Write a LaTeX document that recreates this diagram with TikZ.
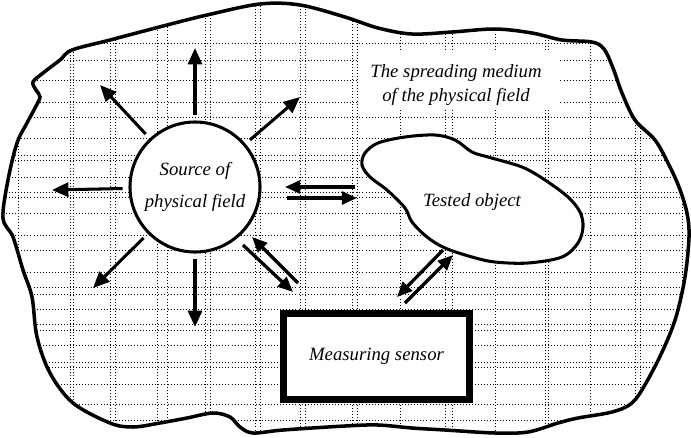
\documentclass[tikz,border=0pt]{standalone}
\usepackage{fontspec}
\setmainfont{Liberation Serif}
\usetikzlibrary{arrows.meta}
\begin{document}
\begin{tikzpicture}[x=0.03cm,y=-0.03cm,
    ray/.style={-{Triangle[length=14pt,width=12pt]},line width=2.6pt,shorten <=5pt},
    pair/.style={-{Triangle[length=13pt,width=11pt]},line width=2.8pt},
    gridline/.style={line width=0.5pt,dash pattern=on 0.6pt off 2pt},
    txt/.style={font=\fontsize{16}{20}\selectfont\itshape,align=center}]
  \useasboundingbox (0,0) rectangle (691,437);
  \def\medium{plot[smooth cycle,tension=0.55] coordinates {
    (72,50) (110,40) (167,25) (207,15) (260,4) (300,5) (345,17) (378,28)
    (412,34) (452,32) (495,29) (532,33) (562,40) (592,42) (604,49) (613,68)
    (622,93) (635,120) (655,140) (668,163) (679,187) (687,213) (689,237)
    (685,277) (676,317) (663,350) (646,383) (632,403) (612,412) (578,418)
    (558,423) (528,432) (495,433) (445,430) (412,428) (378,425) (345,426)
    (283,430) (253,433) (240,427) (230,417) (213,413) (187,418) (160,423)
    (133,427) (110,423) (73,403) (50,373) (37,337) (32,297) (23,270)
    (13,237) (3,218) (8,180) (17,143) (27,123) (35,108) (40,97) (36,90)
    (33,82) (43,73) (60,60)}}
  \begin{scope}
    \clip \medium;
    \foreach \x in {18,70,73,110,115,157,167,205,210,255,260,300,305,352,357,
      400,445,452,495,545,548,590,635,640,682}
      \draw[gridline] (\x,0) -- (\x,437);
    \foreach \y in {43,60,80,102,117,138,155,160,177,192,197,213,235,250,272,
      287,294,309,324,330,345,362,367,384,404,420}
      \draw[gridline] (0,\y) -- (691,\y);
  \end{scope}
  \draw[line width=3pt] \medium;

  \fill[white] (358,50) rectangle (558,108);
  \node[txt] (medium) at (456,85) {The spreading medium\\of the physical field};

  \draw[line width=2.6pt,fill=white] plot[smooth cycle,tension=0.55] coordinates {
    (365,153) (378,143) (405,137) (435,135) (455,140) (472,152) (488,157)
    (522,167) (545,180) (568,197) (580,212) (583,227) (578,243) (562,257)
    (528,263) (495,262) (472,257) (445,248) (427,237) (412,222) (405,208)
    (387,190) (370,177) (362,165)};
  \node[txt] (tested) at (472,202) {Tested object};

  \node[txt,font=\fontsize{16}{27}\selectfont\itshape,circle,draw,line width=2.6pt,
    fill=white,minimum size=3.9cm] (source) at (195,187) {Source of\\physical field};
  \node[txt,draw,line width=6pt,fill=white,minimum width=5.58cm,
    minimum height=2.58cm] (sensor) at (376.5,356.5) {Measuring sensor};

  \coordinate (up) at (195,48);
  \coordinate (upleft) at (100,85);
  \coordinate (upright) at (300,97);
  \coordinate (left) at (52,190);
  \coordinate (downleft) at (93,288);
  \coordinate (down) at (195,327);
  \begin{scope}[ray]
    \draw (source) to (up);
    \draw (source) to (upleft);
    \draw (source) to (upright);
    \draw (source) to (left);
    \draw (source) to (downleft);
    \draw (source) to (down);
  \end{scope}

  \coordinate (st1) at (355,187);
  \coordinate (st2) at (285,187);
  \coordinate (st3) at (287,198);
  \coordinate (st4) at (357,198);
  \coordinate (ss1) at (298,283);
  \coordinate (ss2) at (252,237);
  \coordinate (ss3) at (243,245);
  \coordinate (ss4) at (293,292);
  \coordinate (ts1) at (443,250);
  \coordinate (ts2) at (397,297);
  \coordinate (ts3) at (405,303);
  \coordinate (ts4) at (453,255);
  \begin{scope}[pair]
    \draw (st1) to (st2);
    \draw (st3) to (st4);
    \draw (ss1) to (ss2);
    \draw (ss3) to (ss4);
    \draw (ts1) to (ts2);
    \draw (ts3) to (ts4);
  \end{scope}
\end{tikzpicture}
\end{document}
